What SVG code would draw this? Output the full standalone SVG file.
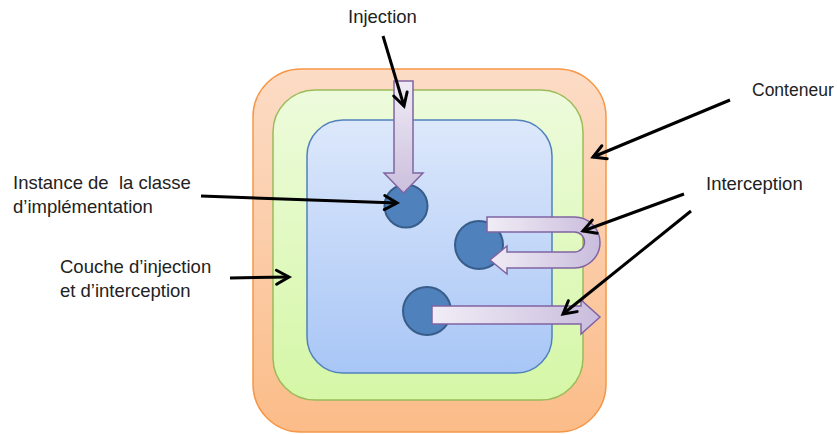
<svg xmlns="http://www.w3.org/2000/svg" width="837" height="434" viewBox="0 0 837 434">
<defs>
<linearGradient id="gOrange" x1="0" y1="0" x2="0" y2="1"><stop offset="0" stop-color="#fcdcc6"/><stop offset="1" stop-color="#fbbc88"/></linearGradient>
<linearGradient id="gGreen" x1="0" y1="0" x2="0" y2="1"><stop offset="0" stop-color="#edfbdc"/><stop offset="1" stop-color="#d5f7a6"/></linearGradient>
<linearGradient id="gBlue" x1="0" y1="0" x2="0" y2="1"><stop offset="0" stop-color="#dde8fb"/><stop offset="1" stop-color="#a8c6f6"/></linearGradient>
<linearGradient id="gLavV" x1="0" y1="0" x2="0" y2="1"><stop offset="0" stop-color="#efebf5"/><stop offset="1" stop-color="#cbbfdd"/></linearGradient>
<linearGradient id="gLavH" x1="0" y1="0" x2="1" y2="0"><stop offset="0" stop-color="#f1edf6"/><stop offset="1" stop-color="#c9bcdd"/></linearGradient>
<marker id="ah" markerUnits="userSpaceOnUse" viewBox="0 0 16 16" markerWidth="16" markerHeight="16" refX="14" refY="8" orient="auto" overflow="visible">
<path d="M1.5,1 L14,8 L1.5,15" fill="none" stroke="#000" stroke-width="3" stroke-linecap="round" stroke-linejoin="miter"/>
</marker>
</defs>
<style>
.lbl{font-family:"Liberation Sans",Arial,sans-serif;font-size:18.5px;fill:#222}
.conn{stroke:#000;stroke-width:3;fill:none;marker-end:url(#ah)}
.inst{fill:#4f81bd;stroke:#385d8a;stroke-width:2}
.blk{stroke:#8064a2;stroke-width:1.5;stroke-linejoin:miter}
</style>
<rect width="837" height="434" fill="#fff"/>
<g id="conteneur"><rect x="253" y="69" width="353" height="363" rx="48" ry="48" fill="url(#gOrange)" stroke="#f79646" stroke-width="1.5"/></g>
<g id="couche"><rect x="273" y="90" width="310" height="310" rx="42" ry="42" fill="url(#gGreen)" stroke="#9bbb59" stroke-width="1.5"/></g>
<g id="classe"><rect x="307" y="120" width="245" height="253" rx="36" ry="36" fill="url(#gBlue)" stroke="#4f81bd" stroke-width="1.5"/></g>
<g id="instance1"><circle cx="406" cy="206" r="21.5" class="inst"/></g>
<g id="instance2"><circle cx="479" cy="245" r="24" class="inst"/></g>
<g id="instance3"><circle cx="427" cy="311" r="24" class="inst"/></g>
<g id="fleche-injection"><path class="blk" fill="url(#gLavV)" d="M394,81 L413,81 L413,173 L423,173 L403.5,193 L384,173 L394,173 Z"/></g>
<g id="fleche-retour"><path class="blk" fill="url(#gLavH)" d="M487,217 L574.5,217 A25.5,25.5 0 0 1 574.5,268 L507,268 L507,274 L490,260 L507,246 L507,252 L574.5,252 A10,10 0 0 0 574.5,232 L487,232 Z"/></g>
<g id="fleche-sortie"><path class="blk" fill="url(#gLavH)" d="M432,306 L581,306 L581,300 L600,317 L581,334 L581,324 L432,324 Z"/></g>
<g id="labels">
<text class="lbl" x="348" y="23">Injection</text>
<text class="lbl" x="752" y="96" style="font-size:17.5px">Conteneur</text>
<text class="lbl" x="706" y="190">Interception</text>
<text class="lbl" x="13" y="189" xml:space="preserve">Instance de  la classe</text>
<text class="lbl" x="13" y="213">d’implémentation</text>
<text class="lbl" x="60" y="273">Couche d’injection</text>
<text class="lbl" x="60" y="297">et d’interception</text>
</g>
<g id="connectors">
<line class="conn" x1="383" y1="36" x2="404" y2="106"/>
<line class="conn" x1="730" y1="100" x2="593" y2="157"/>
<line class="conn" x1="201" y1="196" x2="397" y2="203"/>
<line class="conn" x1="230" y1="278" x2="289" y2="277"/>
<line class="conn" x1="684" y1="194" x2="583" y2="231"/>
<line class="conn" x1="691" y1="211" x2="563" y2="314"/>
</g>
</svg>
